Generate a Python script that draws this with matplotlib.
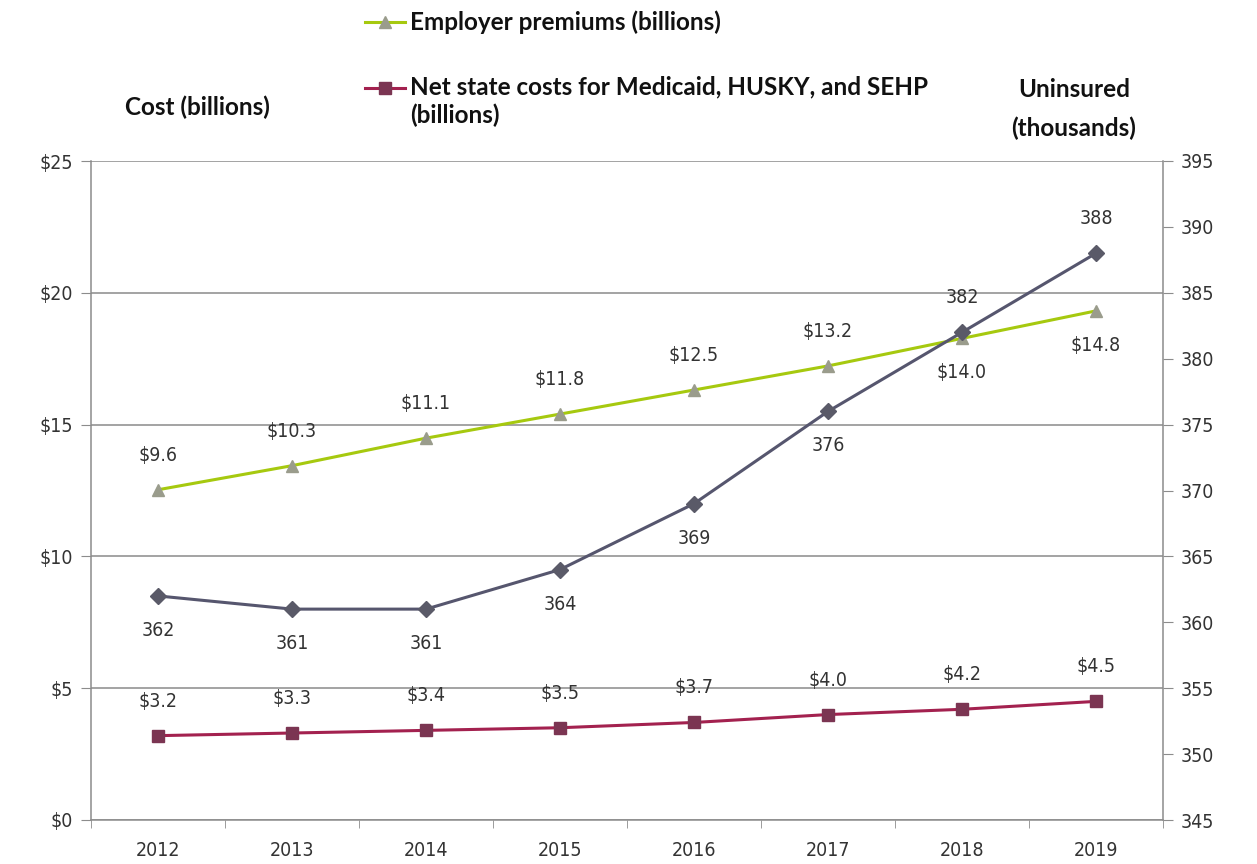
import matplotlib
matplotlib.use("Agg")
import matplotlib.pyplot as plt
from matplotlib.lines import Line2D
import numpy as np

years = ["2012", "2013", "2014", "2015", "2016", "2017", "2018", "2019"]
employer_premiums = [9.6, 10.3, 11.1, 11.8, 12.5, 13.2, 14.0, 14.8]
net_state_costs = [3.2, 3.3, 3.4, 3.5, 3.7, 4.0, 4.2, 4.5]
uninsured = [362, 361, 361, 364, 369, 376, 382, 388]

cost_ticks = [0, 5, 10, 15, 20, 25]
uninsured_ticks = [345, 350, 355, 360, 365, 370, 375, 380, 385, 390, 395]

premium_label_above = [True, True, True, True, True, True, False, False]
uninsured_label_above = [False, False, False, False, False, False, True, True]

narrow = dict(family=["DejaVu Sans"], fontstretch="condensed", fontsize=14, color="#333333")
heading = dict(family=["Lato", "DejaVu Sans"], fontsize=17.5, fontweight="bold", color="#111111")
axis_color = "#8c8c8c"

green = "#a6c90f"
green_marker = "#9a9c8c"
maroon_line = "#a3214f"
maroon_marker = "#7b3552"
slate_line = "#56566e"
slate_marker = "#5a5a68"

W, H = 1257, 864
fig = plt.figure(figsize=(W / 100, H / 100), dpi=100)
ax = fig.add_axes([91 / W, 44 / H, (1163 - 91) / W, (820 - 161) / H])
ax_prem = ax.twinx()
ax_right = ax.twinx()

x = np.arange(len(years))

# left axis: costs in billions
ax.set_xlim(-0.5, len(years) - 0.5)
ax.set_ylim(0, 25)
ax.set_yticks(cost_ticks)
ax.set_yticklabels([f"${v}" for v in cost_ticks], **narrow)
ax.set_xticks(x)
ax.set_xticklabels(years, **narrow)
ax.set_xticks(np.arange(len(years) + 1) - 0.5, minor=True)
ax.tick_params(axis="x", which="major", length=0, pad=15)
ax.tick_params(axis="x", which="minor", length=6, color=axis_color, direction="out")
ax.tick_params(axis="y", length=7, color=axis_color, direction="out", pad=6)
ax.grid(axis="y", color="#8a8a8a", linewidth=1.1)
ax.set_axisbelow(True)
for side in ["top", "right"]:
    ax.spines[side].set_visible(False)
for side in ["left", "bottom"]:
    ax.spines[side].set_color(axis_color)
    ax.spines[side].set_linewidth(1.1)

ax.plot(x, net_state_costs, color=maroon_line, linewidth=2.2, marker="s", markersize=8,
        markerfacecolor=maroon_marker, markeredgecolor=maroon_marker, zorder=3)
for xi, v in zip(x, net_state_costs):
    ax.annotate(f"${v:.1f}", (xi, v), xytext=(0, 18), textcoords="offset points",
                ha="center", va="bottom", **narrow)

# premiums on their own hidden scale
ax_prem.set_ylim(0, 25 / 1.305)
ax_prem.axis("off")
ax_prem.plot(x, employer_premiums, color=green, linewidth=2.2, marker="^", markersize=9,
             markerfacecolor=green_marker, markeredgecolor=green_marker, zorder=3)
for xi, v, above in zip(x, employer_premiums, premium_label_above):
    dy = 18 if above else -18
    ax_prem.annotate(f"${v:.1f}", (xi, v), xytext=(0, dy), textcoords="offset points",
                     ha="center", va="bottom" if above else "top", **narrow)

# right axis: uninsured in thousands
ax_right.set_ylim(345, 395)
ax_right.set_yticks(uninsured_ticks)
ax_right.set_yticklabels([str(v) for v in uninsured_ticks], **narrow)
ax_right.tick_params(axis="y", length=7, color=axis_color, direction="out", pad=6)
for side in ["top", "left", "bottom"]:
    ax_right.spines[side].set_visible(False)
ax_right.spines["right"].set_color(axis_color)
ax_right.spines["right"].set_linewidth(1.1)
ax_right.plot(x, uninsured, color=slate_line, linewidth=2.2, marker="D", markersize=8,
              markerfacecolor=slate_marker, markeredgecolor=slate_marker, zorder=3)
for xi, v, above in zip(x, uninsured, uninsured_label_above):
    dy = 18 if above else -18
    ax_right.annotate(f"{v}", (xi, v), xytext=(0, dy), textcoords="offset points",
                      ha="center", va="bottom" if above else "top", **narrow)

# axis headings
fig.text(197 / W, 1 - 107 / H, "Cost (billions)", ha="center", va="center", **heading)
fig.text(1074 / W, 1 - 109 / H, "Uninsured\n(thousands)", ha="center", va="center",
         linespacing=1.75, **heading)

# legend entries
def legend_handle(y_px, color, mcolor, marker, msize):
    fig.add_artist(Line2D([365 / W, 385 / W, 405 / W], [1 - y_px / H] * 3,
                          transform=fig.transFigure, color=color, linewidth=2.2,
                          marker=marker, markersize=msize, markevery=[1],
                          markerfacecolor=mcolor, markeredgecolor=mcolor))

legend_handle(22, green, green_marker, "^", 9)
fig.text(410 / W, 1 - 22 / H, "Employer premiums (billions)", ha="left", va="center", **heading)
legend_handle(88, maroon_line, maroon_marker, "s", 8)
fig.text(410 / W, 1 - 75 / H, "Net state costs for Medicaid, HUSKY, and SEHP\n(billions)",
         ha="left", va="top", linespacing=1.3, **heading)

fig.savefig("out.png", dpi=100)
